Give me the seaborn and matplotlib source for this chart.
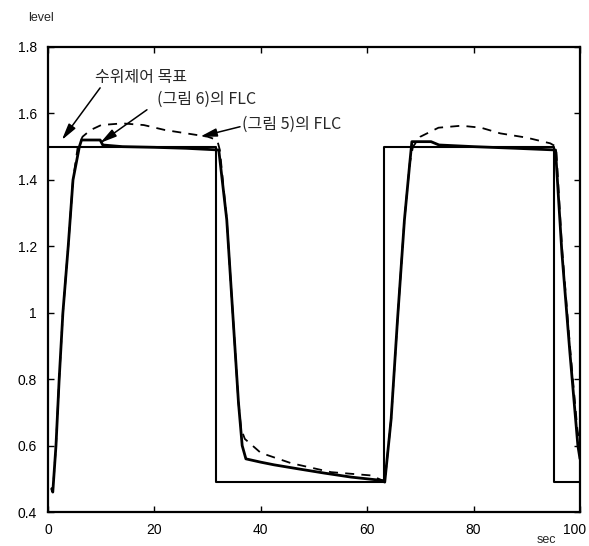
import numpy as np
import pandas as pd
import matplotlib
matplotlib.use('Agg')
import matplotlib.pyplot as plt
import matplotlib.transforms as mtransforms
import seaborn as sns

# setpoint (수위제어 목표)
ref_t = [0, 31.5, 31.5, 63.2, 63.2, 95.1, 95.1, 100]
ref_y = [1.5, 1.5, 0.49, 0.49, 1.5, 1.5, 0.49, 0.49]

# FLC of figure 6 (solid)
flc6_t = [0.7, 0.9, 1.5, 2.1, 2.8, 3.8, 4.7, 5.9, 6.3, 9.8, 10.3, 14, 20, 26, 32.1,
          33.6, 34.8, 35.8, 36.5, 37.2, 40, 42.5, 47, 52, 57, 62.8,
          63.3, 64.5, 65.7, 67.0, 68.0, 68.4, 72, 73.5, 80, 88, 95.4,
          96.6, 98.1, 99.6, 100]
flc6_y = [0.47, 0.46, 0.6, 0.8, 1.0, 1.2, 1.4, 1.5, 1.52, 1.52, 1.505, 1.5, 1.498, 1.495, 1.49,
          1.28, 0.98, 0.73, 0.6, 0.56, 0.55, 0.542, 0.53, 0.517, 0.505, 0.495,
          0.49, 0.68, 0.98, 1.28, 1.45, 1.515, 1.515, 1.505, 1.5, 1.495, 1.49,
          1.18, 0.88, 0.6, 0.56]

# FLC of figure 5 (dashed)
flc5_t = [0.7, 0.9, 1.5, 2.1, 2.8, 3.8, 4.7, 5.6, 6.5, 8, 10, 14, 18, 22, 26, 30, 31.8,
          32.3, 33.6, 34.8, 35.8, 36.3, 37, 40, 45.7, 53.2, 60.8, 62.8,
          63.3, 64.5, 65.7, 67.0, 68.0, 68.6, 70, 73.4, 77.7, 81.4, 85, 90, 94.4, 95.5,
          96.6, 98.1, 99.5, 100]
flc5_y = [0.47, 0.46, 0.6, 0.8, 1.0, 1.2, 1.4, 1.5, 1.53, 1.55, 1.565, 1.57, 1.565, 1.55, 1.54, 1.53, 1.52,
          1.49, 1.28, 0.98, 0.73, 0.65, 0.62, 0.578, 0.547, 0.52, 0.51, 0.495,
          0.49, 0.68, 0.98, 1.28, 1.45, 1.5, 1.53, 1.557, 1.563, 1.557, 1.54, 1.527, 1.51, 1.5,
          1.2, 0.9, 0.65, 0.6]

x_ticks = [0, 20, 40, 60, 80, 100]
y_ticks = [0.4, 0.6, 0.8, 1.0, 1.2, 1.4, 1.6, 1.8]
y_tick_labels = ['0.4', '0.6', '0.8', '1', '1.2', '1.4', '1.6', '1.8']

labels = ['수위제어 목표', '(그림 6)의 FLC', '(그림 5)의 FLC']
label_pos = [(8.8, 1.707), (20.5, 1.641), (36.5, 1.566)]
arrow_from = [(9.8, 1.677), (18.6, 1.611), (36.1, 1.56)]
arrow_to = [(2.6, 1.52), (9.8, 1.511), (28.6, 1.53)]

sns.set_style('ticks')
plt.rcParams['font.family'] = ['Liberation Sans', 'Noto Sans CJK KR', 'DejaVu Sans']

fig = plt.figure(figsize=(5.89, 5.46), dpi=100)
ax = fig.add_axes([48 / 589, 1 - 512 / 546, 532 / 589, 465 / 546])

ref_df = pd.DataFrame({'t': ref_t, 'y': ref_y})
f6_df = pd.DataFrame({'t': flc6_t, 'y': flc6_y})
f5_df = pd.DataFrame({'t': flc5_t, 'y': flc5_y})

sns.lineplot(data=ref_df, x='t', y='y', sort=False, estimator=None, color='black', lw=1.5, ax=ax)
sns.lineplot(data=f6_df, x='t', y='y', sort=False, estimator=None, color='black', lw=2.0, ax=ax)
sns.lineplot(data=f5_df, x='t', y='y', sort=False, estimator=None, color='black', lw=1.3,
             dashes=False, ax=ax).lines[-1].set_dashes((5, 4))

ax.set_xlim(0, 100)
ax.set_ylim(0.4, 1.8)
ax.set_xticks(x_ticks)
ax.set_yticks(y_ticks)
ax.set_yticklabels(y_tick_labels)
ax.set_xlabel('')
ax.set_ylabel('')
ax.tick_params(direction='in', top=True, right=True, length=4, width=1, labelsize=10, pad=8,
               colors='black')
for s in ax.spines.values():
    s.set_linewidth(1.6)
    s.set_color('black')

# nudge the "100" label so it stays inside the canvas
last = ax.get_xticklabels()[-1]
last.set_transform(last.get_transform() + mtransforms.ScaledTranslation(-5 / 100, 0, fig.dpi_scale_trans))

for txt, pos, a0, a1 in zip(labels, label_pos, arrow_from, arrow_to):
    ax.text(pos[0], pos[1], txt, fontsize=11.5, ha='left', va='center',
            family=['Noto Sans CJK KR', 'DejaVu Sans'])
    ax.annotate('', xy=a1, xytext=a0,
                arrowprops=dict(arrowstyle='-|>,head_length=1.0,head_width=0.25',
                                color='black', lw=1.1, shrinkA=0, shrinkB=0))

fig.text(28 / 589, 1 - 18 / 546, 'level', fontsize=9, ha='left', va='center')
fig.text(537 / 589, 1 - 540 / 546, 'sec', fontsize=9, ha='left', va='center')

fig.savefig('out.png', dpi=100)
